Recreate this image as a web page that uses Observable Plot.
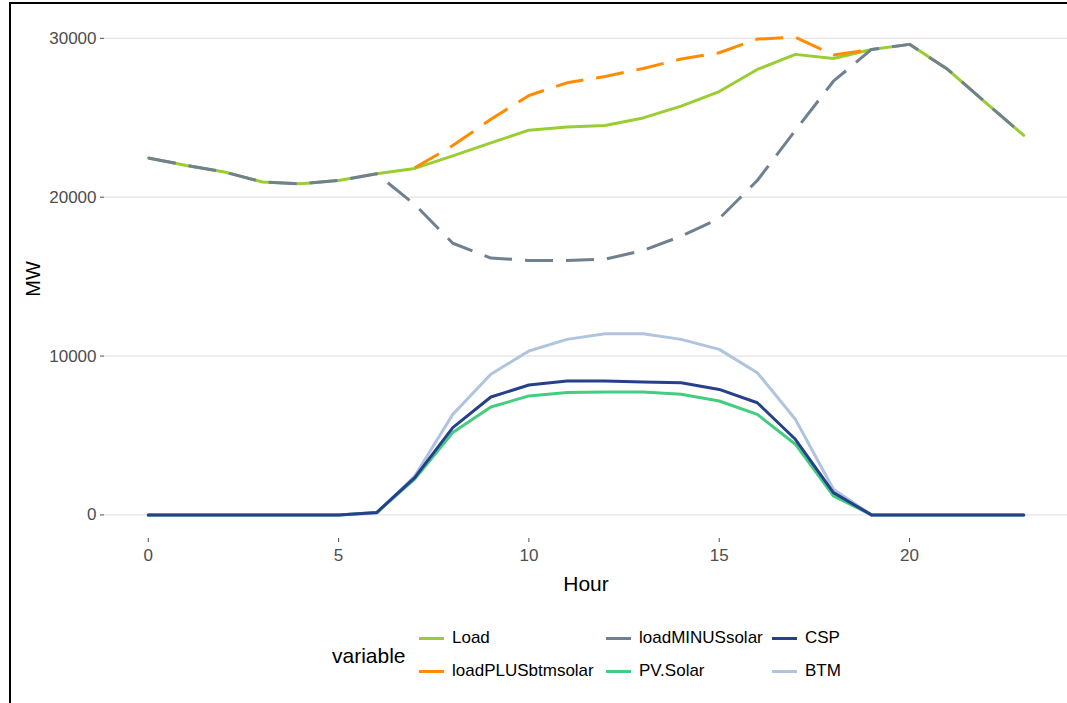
<!DOCTYPE html>
<html>
<head>
<meta charset="utf-8">
<script src="https://cdn.jsdelivr.net/npm/d3@7"></script>
<script src="https://cdn.jsdelivr.net/npm/@observablehq/plot@0.6"></script>
<style>
  html, body { margin: 0; padding: 0; background: #fff; }
  #wrap { position: relative; width: 1067px; height: 703px; overflow: hidden; font-family: "Liberation Sans", Arial, sans-serif; }
  #frame { position: absolute; left: 9px; top: 2px; width: 2000px; height: 2000px; border-left: 2px solid #000; border-top: 2px solid #000; }
  #chart { position: absolute; left: 0; top: 0; }
  .legend-title { position: absolute; font-size: 21px; line-height: 24px; color: #000; }
  .legend-key { position: absolute; width: 25px; height: 3px; }
  .legend-label { position: absolute; font-size: 17px; line-height: 20px; color: #000; white-space: nowrap; }
</style>
</head>
<body>
<div id="wrap">
  <div id="frame"></div>
  <div id="chart"></div>
  <div id="legend"></div>
</div>
<script>
// ---- data ----
const hours = [0,1,2,3,4,5,6,7,8,9,10,11,12,13,14,15,16,17,18,19,20,21,22,23];
const load = [22470,22000,21590,20960,20840,21050,21470,21810,22600,23420,24220,24420,24510,24990,25730,26650,28040,28990,28730,29300,29620,28050,25950,23890];
const loadPLUSbtmsolar = [null,null,null,null,null,null,null,21850,23250,24900,26400,27200,27600,28100,28700,29090,29950,30070,28950,29300,null,null,null,null];
const loadMINUSsolar = [22470,22000,21590,20960,20840,21050,21470,19540,17100,16170,16020,16020,16100,16640,17550,18650,21050,24200,27300,29300,29620,28050,25950,23890];
const pvSolar = [0,0,0,0,0,0,145,2250,5180,6790,7490,7700,7740,7740,7590,7170,6330,4450,1200,0,0,0,0,0];
const csp = [0,0,0,0,0,0,150,2350,5490,7420,8180,8430,8430,8370,8320,7900,7060,4760,1400,0,0,0,0,0];
const btm = [0,0,0,0,0,0,100,2450,6330,8850,10320,11050,11400,11400,11050,10420,8950,6020,1620,0,0,0,0,0];

const seriesNames = ["Load","loadPLUSbtmsolar","loadMINUSsolar","PV.Solar","CSP","BTM"];
const seriesColors = ["#9acd32","#ff8c00","#708090","#43cd80","#27408b","#b0c4de"];
const yTicks = [0,10000,20000,30000];
const xTicks = [0,5,10,15,20];

const valuesByName = {
  "Load": load, "loadPLUSbtmsolar": loadPLUSbtmsolar, "loadMINUSsolar": loadMINUSsolar,
  "PV.Solar": pvSolar, "CSP": csp, "BTM": btm
};
const colorOf = Object.fromEntries(seriesNames.map((n, i) => [n, seriesColors[i]]));
const rows = name => hours.map((h, i) => ({Hour: h, MW: valuesByName[name][i], variable: name}))
                          .filter(d => d.MW != null);

const dashed = {strokeDasharray: "28,13", strokeLinecap: "butt"};
const lineMark = (name, extra = {}) => Plot.line(rows(name), {
  x: "Hour", y: "MW", stroke: colorOf[name], strokeWidth: 3, strokeLinejoin: "round", ...extra
});

const yMin = -1485, yMax = 31185;

const chart = Plot.plot({
  width: 1067,
  height: 600,
  marginLeft: 104,
  marginRight: 0,
  marginTop: 19,
  marginBottom: 62,
  style: {fontFamily: '"Liberation Sans", Arial, sans-serif', fontSize: "17px", background: "transparent", overflow: "visible"},
  x: {domain: [-1.15, 24.15]},
  y: {domain: [yMin, yMax]},
  marks: [
    Plot.gridY(yTicks, {stroke: "#dedede", strokeOpacity: 1, strokeWidth: 1}),
    Plot.axisY(yTicks, {tickSize: 4, tickPadding: 4, color: "#4d4d4d", label: null, fontSize: 17, tickFormat: d => String(d)}),
    Plot.axisY({ticks: [], label: "MW", labelAnchor: "center", labelArrow: "none", labelOffset: 79, fontSize: 20, color: "#000"}),
    Plot.axisX(xTicks, {tickSize: 4, tickPadding: 6, color: "#4d4d4d", label: null, fontSize: 17, tickFormat: d => String(d)}),
    Plot.axisX({ticks: [], label: "Hour", labelAnchor: "center", labelArrow: "none", labelOffset: 52, fontSize: 21, color: "#000"}),
    lineMark("Load"),
    lineMark("loadPLUSbtmsolar", dashed),
    lineMark("loadMINUSsolar", dashed),
    lineMark("BTM"),
    lineMark("PV.Solar"),
    lineMark("CSP")
  ]
});
document.getElementById("chart").appendChild(chart);

// ---- legend (HTML, below the plot) ----
const legend = document.getElementById("legend");
const title = document.createElement("div");
title.className = "legend-title";
title.textContent = "variable";
title.style.left = "332px";
title.style.top = (656 - 12) + "px";
legend.appendChild(title);
const colX = [419, 606, 772];
const rowY = [638, 671];
seriesNames.forEach((name, i) => {
  const c = Math.floor(i / 2), r = i % 2;
  const key = document.createElement("div");
  key.className = "legend-key";
  key.style.background = colorOf[name];
  key.style.left = colX[c] + "px";
  key.style.top = (rowY[r] - 1) + "px";
  legend.appendChild(key);
  const lab = document.createElement("div");
  lab.className = "legend-label";
  lab.textContent = name;
  lab.style.left = (colX[c] + 33) + "px";
  lab.style.top = (rowY[r] - 10) + "px";
  legend.appendChild(lab);
});
</script>
</body>
</html>
